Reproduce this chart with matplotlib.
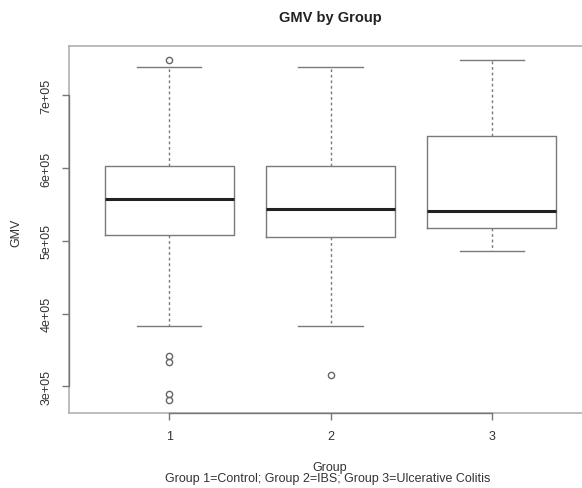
import matplotlib
matplotlib.use("Agg")
import matplotlib.pyplot as plt

plt.rcParams['font.family'] = ['Liberation Sans', 'DejaVu Sans']

groups = ["1", "2", "3"]
whisker_low = [383200, 383600, 486000]
q1 = [508800, 506100, 518000]
median = [558300, 543700, 541800]
q3 = [603300, 603300, 643600]
whisker_high = [739000, 739000, 749100]
outliers = [[749100, 341500, 333200, 289000, 281700], [315800], []]

yticks = [300000, 400000, 500000, 600000, 700000]
ytick_labels = ["3e+05", "4e+05", "5e+05", "6e+05", "7e+05"]

W, H = 582, 489
fig = plt.figure(figsize=(W / 100, H / 100), dpi=100)
left, right, top, bottom = 69, 592, 47, 414
rect = [left / W, (H - bottom) / H, (right - left) / W, (bottom - top) / H]

# light frame (box around plot region; its right side falls outside the figure)
frame = fig.add_axes(rect, zorder=0)
frame.set_xticks([])
frame.set_yticks([])
for s in frame.spines.values():
    s.set_color('#b0b0b0')
    s.set_linewidth(1.2)
frame.spines['right'].set_visible(False)

ax = fig.add_axes(rect, zorder=1)
ax.patch.set_visible(False)

stats = []
for i, g in enumerate(groups):
    stats.append(dict(label=g, whislo=whisker_low[i], q1=q1[i], med=median[i],
                      q3=q3[i], whishi=whisker_high[i], fliers=outliers[i]))

boxc = '#7a7a7a'
ax.bxp(stats, positions=[1, 2, 3], widths=0.8, showfliers=True,
       boxprops=dict(color=boxc, linewidth=1.0),
       medianprops=dict(color='#222222', linewidth=2.2),
       whiskerprops=dict(color=boxc, linewidth=1.0, linestyle=(0, (2, 2))),
       capprops=dict(color=boxc, linewidth=1.0),
       flierprops=dict(marker='o', markerfacecolor='none', markeredgecolor='#666666',
                       markersize=4.5, markeredgewidth=1.0),
       capwidths=0.4)

ax.set_xlim(0.38, 3.62)
ax.set_ylim(263500, 768000)

for s in ['top', 'right']:
    ax.spines[s].set_visible(False)
for s in ['left', 'bottom']:
    ax.spines[s].set_color('#777777')
    ax.spines[s].set_linewidth(1.0)
ax.spines['bottom'].set_bounds(1, 3)
ax.spines['left'].set_bounds(300000, 700000)

ax.set_yticks(yticks)
ax.set_yticklabels(ytick_labels, rotation=90, va='center', fontsize=9, color='#333333')
ax.set_xticks([1, 2, 3])
ax.set_xticklabels(groups, fontsize=9, color='#333333')
ax.tick_params(axis='both', length=5, width=1, color='#777777', pad=7)

fig.text((left + right) / 2 / W, 1 - 18 / H, "GMV by Group", ha='center', va='center',
         fontsize=10.5, fontweight='bold', color='#222222')
fig.text(16 / W, 1 - 233 / H, "GMV", rotation=90, ha='center', va='center',
         fontsize=9, color='#333333')
fig.text(330 / W, 1 - 468 / H, "Group", ha='center', va='center', fontsize=9, color='#333333')
fig.text(328 / W, 1 - 479.5 / H, "Group 1=Control; Group 2=IBS; Group 3=Ulcerative Colitis",
         ha='center', va='center', fontsize=9, color='#333333')

fig.savefig("out.png", dpi=100)
